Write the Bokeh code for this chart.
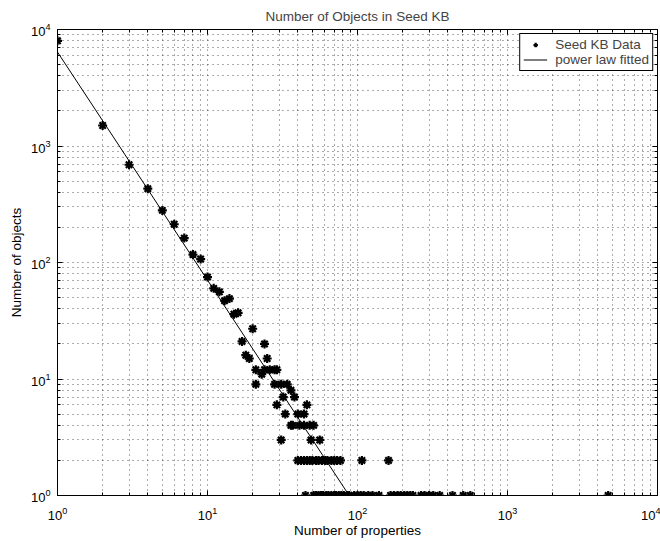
from bokeh.plotting import figure
from bokeh.models import LogAxis, FixedTicker, Legend, LegendItem, ColumnDataSource, CustomJSTickFormatter
from bokeh.embed import file_html
from bokeh.resources import INLINE

# ---- data ----
props = [1, 2, 3, 4, 5, 6, 7, 8, 9, 10, 11, 12, 13, 14, 15, 16, 17, 18, 19, 20,
         21, 21, 23, 24, 24, 25, 26, 28, 29,
         28, 31, 34, 36, 32, 38, 29, 46, 33, 40, 44,
         36, 37, 41, 44, 48, 51, 31, 49, 56,
         40, 42, 44, 46, 48, 50, 53, 55, 58, 61, 63, 67, 70, 73, 77, 107, 161,
         45, 51, 53, 55, 57, 59, 62, 64, 67, 70, 72, 75, 78, 81, 85, 88, 95, 100,
         105, 110, 118, 126, 139, 166, 175, 185, 194, 205, 215, 225, 234, 265,
         280, 300, 320, 353, 430, 507, 565, 4690]
objects = [8000, 1500, 690, 430, 280, 213, 162, 117, 107, 75, 60, 56, 47, 49, 36, 37, 21, 16, 15, 27,
           12, 9, 11, 20, 12, 15, 12, 12, 12,
           9, 9, 9, 8, 7, 7, 6, 6, 5, 5, 5,
           4, 4, 4, 4, 4, 4, 3, 3, 3,
           2, 2, 2, 2, 2, 2, 2, 2, 2, 2, 2, 2, 2, 2, 2, 2, 2,
           1, 1, 1, 1, 1, 1, 1, 1, 1, 1, 1, 1, 1, 1, 1, 1, 1, 1,
           1, 1, 1, 1, 1, 1, 1, 1, 1, 1, 1, 1, 1, 1,
           1, 1, 1, 1, 1, 1, 1, 1]
fit_props = [1, 88]
fit_objects = [6400, 1]

major_ticks = [1, 10, 100, 1000, 10000]
minor_ticks = [m * 10 ** e for e in range(4) for m in range(2, 10)]

FONT = "Liberation Sans"
FS = "13.5px"

p = figure(width=660, height=540, x_axis_type="log", y_axis_type="log",
           x_range=(1, 1e4), y_range=(1, 1e4),
           output_backend="svg", toolbar_location=None,
           min_border_left=57, min_border_right=3, min_border_top=29, min_border_bottom=41,
           title="Number of Objects in Seed KB",
           background_fill_color="white", border_fill_color="white")

p.title.align = "center"
p.title.text_font = FONT
p.title.text_font_size = FS
p.title.text_font_style = "normal"
p.title.standoff = 12

p.outline_line_color = "black"
p.outline_line_width = 1
p.outline_line_alpha = 1


def style_axis(ax, labels=True):
    ax.ticker = FixedTicker(ticks=major_ticks, minor_ticks=minor_ticks)
    ax.major_tick_in = 5
    ax.major_tick_out = 0
    ax.minor_tick_in = 3
    ax.minor_tick_out = 0
    ax.axis_line_color = "black"
    ax.major_tick_line_color = "black"
    ax.minor_tick_line_color = "black"
    if labels:
        ax.major_label_text_font = FONT
        ax.major_label_text_font_size = "13px"
        ax.major_label_text_color = "black"
        ax.axis_label_text_font = FONT
        ax.axis_label_text_font_size = FS
        ax.axis_label_text_font_style = "normal"
        ax.axis_label_text_color = "black"
    else:
        ax.formatter = CustomJSTickFormatter(code="return ''")
        ax.major_label_standoff = 0
        ax.axis_label_standoff = 0
        ax.major_label_text_font_size = "0px"


xa = p.xaxis[0]
ya = p.yaxis[0]
style_axis(xa)
style_axis(ya)
xa.axis_label = "Number of properties"
ya.axis_label = "Number of objects"
xa.major_label_standoff = 11
xa.axis_label_standoff = 0
ya.major_label_standoff = 7
ya.axis_label_standoff = 4

top = LogAxis()
style_axis(top, labels=False)
right = LogAxis()
style_axis(right, labels=False)
p.add_layout(top, "above")
p.add_layout(right, "right")

for g in (p.xgrid[0], p.ygrid[0]):
    g.ticker = FixedTicker(ticks=major_ticks, minor_ticks=minor_ticks)
    g.grid_line_color = "#222222"
    g.grid_line_alpha = 0.75
    g.grid_line_dash = "1 4"
    g.minor_grid_line_color = "#222222"
    g.minor_grid_line_alpha = 0.75
    g.minor_grid_line_dash = "1 4"

src = ColumnDataSource(dict(x=props, y=objects))
sc = p.scatter("x", "y", source=src, marker="asterisk", size=9, line_width=2.2, line_color="black")
ln = p.line(fit_props, fit_objects, line_color="black", line_width=1)

legend = Legend(items=[LegendItem(label="Seed KB Data", renderers=[sc]),
                       LegendItem(label="power law fitted", renderers=[ln])],
                location="top_right", margin=4, padding=3, spacing=0,
                glyph_width=24, glyph_height=11, label_height=11, label_standoff=8,
                label_text_font=FONT, label_text_font_size=FS,
                border_line_color="black", border_line_width=1, border_line_alpha=1,
                background_fill_color="white", background_fill_alpha=1)
p.add_layout(legend)

open("out.html", "w").write(file_html(p, INLINE))
